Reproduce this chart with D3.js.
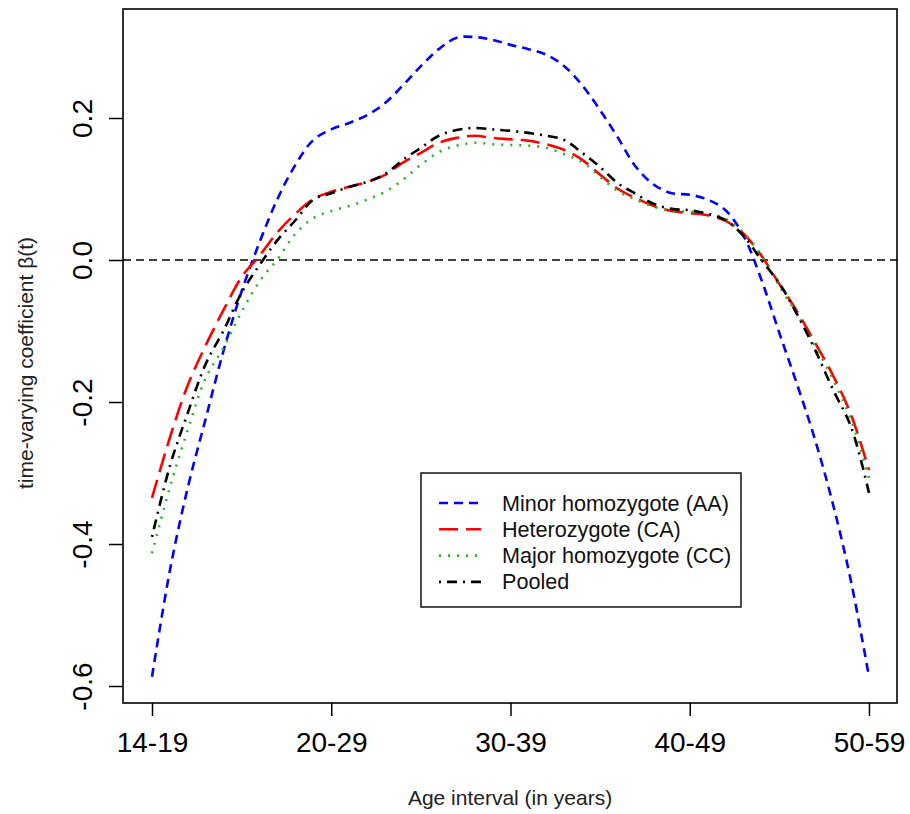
<!DOCTYPE html>
<html>
<head>
<meta charset="utf-8">
<script src="https://cdn.jsdelivr.net/npm/d3@7"></script>
<style>
  body { margin: 0; background: #fff; }
  svg { display: block; font-family: Arial, "Liberation Sans", sans-serif; }
  .tick line { stroke: #000; stroke-width: 1.5; }
  .tick text { fill: #000; font-size: 28px; font-family: Arial, "Liberation Sans", sans-serif; }
  .series { fill: none; stroke-width: 2.6; }
  .legend-text { font-size: 21.6px; fill: #111; }
  .axis-title { font-size: 21px; fill: #222; }
</style>
</head>
<body>
<svg id="chart"></svg>
<script>
// age groups on the x axis (positions 1..5)
const ageLabels = [ '14-19', '20-29', '30-39', '40-49', '50-59' ]
const yTicks = [ -0.6, -0.4, -0.2, 0, 0.2 ]

// sample points along the age axis, read every 0.1
const xs = [ 1.0, 1.1, 1.2, 1.3, 1.4, 1.5, 1.6, 1.7, 1.8, 1.9,
  2.0, 2.1, 2.2, 2.3, 2.4, 2.5, 2.6, 2.7, 2.8, 2.9,
  3.0, 3.1, 3.2, 3.3, 3.4, 3.5, 3.6, 3.7, 3.8, 3.9,
  4.0, 4.1, 4.2, 4.3, 4.4, 4.5, 4.6, 4.7, 4.8, 4.9, 5.0 ]

const minorAA = [ -0.587, -0.437, -0.320, -0.223, -0.127, -0.044, 0.025, 0.086, 0.134, 0.169,
  0.184, 0.193, 0.204, 0.221, 0.246, 0.273, 0.297, 0.313, 0.314, 0.310,
  0.303, 0.297, 0.289, 0.273, 0.246, 0.211, 0.172, 0.131, 0.106, 0.094,
  0.092, 0.085, 0.070, 0.034, -0.028, -0.103, -0.176, -0.254, -0.345, -0.453, -0.587 ]

const heteroCA = [ -0.335, -0.250, -0.176, -0.120, -0.070, -0.024, 0.006, 0.039, 0.065, 0.086,
  0.096, 0.103, 0.110, 0.120, 0.137, 0.151, 0.165, 0.172, 0.175, 0.172,
  0.170, 0.168, 0.163, 0.155, 0.141, 0.120, 0.100, 0.087, 0.076, 0.069,
  0.066, 0.063, 0.055, 0.037, 0.006, -0.034, -0.073, -0.117, -0.163, -0.218, -0.296 ]

const majorCC = [ -0.413, -0.320, -0.239, -0.166, -0.123, -0.073, -0.030, 0.001, 0.037, 0.059,
  0.069, 0.076, 0.085, 0.096, 0.113, 0.134, 0.152, 0.161, 0.165, 0.163,
  0.162, 0.161, 0.158, 0.149, 0.138, 0.117, 0.097, 0.085, 0.075, 0.069,
  0.068, 0.065, 0.058, 0.038, 0.006, -0.037, -0.077, -0.121, -0.169, -0.225, -0.307 ]

const pooled = [ -0.390, -0.290, -0.215, -0.146, -0.099, -0.046, -0.007, 0.028, 0.056, 0.085,
  0.094, 0.103, 0.110, 0.121, 0.141, 0.158, 0.175, 0.183, 0.186, 0.184,
  0.182, 0.179, 0.175, 0.169, 0.151, 0.131, 0.108, 0.093, 0.079, 0.072,
  0.070, 0.065, 0.056, 0.034, 0.000, -0.033, -0.077, -0.127, -0.183, -0.235, -0.328 ]

const seriesNames = [ 'Minor homozygote (AA)', 'Heterozygote (CA)', 'Major homozygote (CC)', 'Pooled' ]
const seriesValues = [ minorAA, heteroCA, majorCC, pooled ]
const seriesColors = [ '#0000ff', '#ff0000', '#22b522', '#000000' ]
const seriesDash = [ '9 6', '19 8', '2 7', '2 6 10 6' ]

const width = 910
const height = 814
const box = { left: 123, right: 897, top: 9, bottom: 703 }

const svg = d3.select('#chart')
    .attr('width', width)
    .attr('height', height)

const xScale = d3.scaleLinear()
    .domain([ 1, 5 ])
    .range([ 152, 869 ])

const yScale = d3.scaleLinear()
    .domain([ -0.6, 0.2 ])
    .range([ 686, 118 ])

// zero reference line
svg.append('line')
    .attr('x1', box.left)
    .attr('x2', box.right)
    .attr('y1', yScale(0))
    .attr('y2', yScale(0))
    .attr('stroke', '#000')
    .attr('stroke-width', 1.4)
    .attr('stroke-dasharray', '8 5')

const lineGen = d3.line()
    .x( (d, i) => xScale(xs[i]) )
    .y( d => yScale(d) )
    .curve(d3.curveCatmullRom)

svg.selectAll('.series')
    .data(seriesValues)
    .enter()
    .append('path')
    .attr('class', 'series')
    .attr('d', d => lineGen(d))
    .attr('stroke', (d, i) => seriesColors[i])
    .attr('stroke-dasharray', (d, i) => seriesDash[i])

// plot frame
svg.append('rect')
    .attr('x', box.left)
    .attr('y', box.top)
    .attr('width', box.right - box.left)
    .attr('height', box.bottom - box.top)
    .attr('fill', 'none')
    .attr('stroke', '#000')
    .attr('stroke-width', 1.6)

const xAxis = svg.append('g')
    .attr('transform', `translate(0,${box.bottom})`)
    .call(d3.axisBottom(xScale)
        .tickValues([ 1, 2, 3, 4, 5 ])
        .tickFormat(d => ageLabels[d - 1])
        .tickSize(13)
        .tickPadding(16))
xAxis.select('.domain').remove()

const yAxis = svg.append('g')
    .attr('transform', `translate(${box.left},0)`)
    .call(d3.axisLeft(yScale)
        .tickValues(yTicks)
        .tickFormat(d => d.toFixed(1))
        .tickSize(14))
yAxis.select('.domain').remove()
yAxis.selectAll('.tick text')
    .attr('transform', 'rotate(-90)')
    .attr('x', 0)
    .attr('y', -31)
    .attr('dy', 0)
    .attr('text-anchor', 'middle')

svg.append('text')
    .attr('class', 'axis-title')
    .attr('x', 510)
    .attr('y', 805)
    .attr('text-anchor', 'middle')
    .text('Age interval (in years)')

svg.append('text')
    .attr('class', 'axis-title')
    .attr('transform', 'translate(33,363) rotate(-90)')
    .attr('text-anchor', 'middle')
    .text('time-varying coefficient  \u03b2(t)')

// legend
const legend = svg.append('g')
    .attr('transform', 'translate(421,473)')

legend.append('rect')
    .attr('width', 320)
    .attr('height', 134)
    .attr('fill', '#fff')
    .attr('stroke', '#000')
    .attr('stroke-width', 1.4)

const rows = legend.selectAll('.legend-row')
    .data(seriesNames)
    .enter()
    .append('g')
    .attr('class', 'legend-row')
    .attr('transform', (d, i) => `translate(0,${30 + i * 26.3})`)

rows.append('line')
    .attr('x1', 18)
    .attr('x2', 60)
    .attr('stroke', (d, i) => seriesColors[i])
    .attr('stroke-width', 2.6)
    .attr('stroke-dasharray', (d, i) => seriesDash[i])

rows.append('text')
    .attr('class', 'legend-text')
    .attr('x', 81)
    .attr('y', 7.5)
    .text(d => d)
</script>
</body>
</html>
